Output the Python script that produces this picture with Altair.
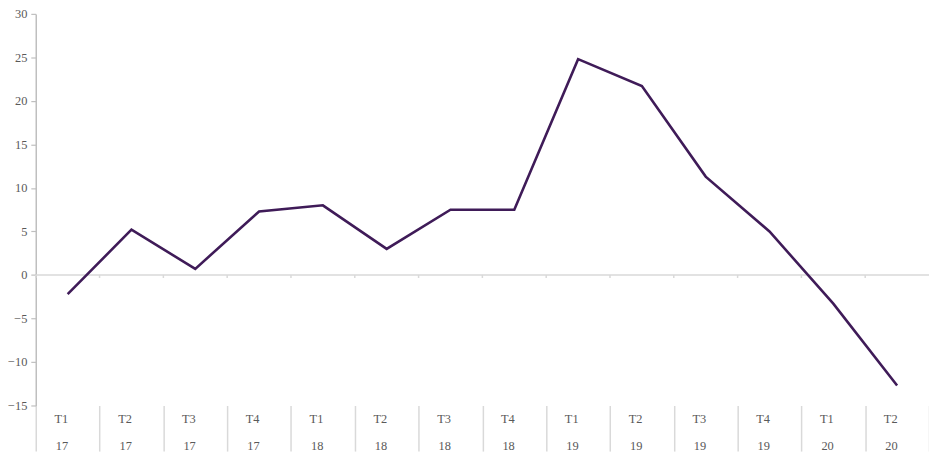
import altair as alt
import pandas as pd

quarters = ["T1", "T2", "T3", "T4", "T1", "T2", "T3", "T4", "T1", "T2", "T3", "T4", "T1", "T2"]
years = ["17", "17", "17", "17", "18", "18", "18", "18", "19", "19", "19", "19", "20", "20"]
values = [-2.2, 5.2, 0.7, 7.3, 8.0, 3.0, 7.5, 7.5, 24.8, 21.7, 11.3, 5.0, -3.3, -12.7]

labels = [f"{q} {y}" for q, y in zip(quarters, years)]
df = pd.DataFrame({"cat": labels, "value": values})

FONT = "Liberation Serif, DejaVu Serif, serif"
TXT = "#595959"

x_scale = alt.Scale(type="band", paddingInner=0, paddingOuter=0)
y_scale = alt.Scale(domain=[-15, 30], nice=False, zero=False)

x_enc = alt.X(
    "cat:N",
    sort=None,
    scale=x_scale,
    axis=alt.Axis(
        title=None,
        domain=False,
        ticks=True,
        tickBand="extent",
        tickSize=46,
        tickColor="#d9d9d9",
        tickWidth=1.5,
        labelPadding=-39,
        labelBaseline="top",
        labelAngle=0,
        labelExpr="split(datum.label, ' ')",
        labelLineHeight=27,
        labelFont=FONT,
        labelFontSize=12.5,
        labelColor=TXT,
        grid=False,
    ),
)

y_enc = alt.Y(
    "value:Q",
    scale=y_scale,
    axis=alt.Axis(
        title=None,
        values=[-15, -10, -5, 0, 5, 10, 15, 20, 25, 30],
        grid=False,
        domainColor="#bfbfbf",
        domainWidth=1.5,
        tickColor="#bfbfbf",
        tickSize=5,
        tickWidth=1.2,
        labelPadding=4,
        labelFont=FONT,
        labelFontSize=12.5,
        labelColor=TXT,
    ),
)

zero_line = alt.Chart(pd.DataFrame({"z": [0]})).mark_rule(
    color="#d9d9d9", strokeWidth=1.5
).encode(y=alt.Y("z:Q", scale=y_scale))

zero_ticks = alt.Chart(df).mark_rule(color="#d9d9d9", strokeWidth=1.5).encode(
    x=alt.X("cat:N", sort=None, bandPosition=0, scale=x_scale),
    y=alt.datum(0),
    y2=alt.datum(-0.35),
)

line = alt.Chart(df).mark_line(color="#3f1b58", strokeWidth=2.6).encode(
    x=x_enc,
    y=y_enc,
)

chart = (
    alt.layer(zero_line, zero_ticks, line)
    .properties(
        width=901,
        height=395,
        autosize=alt.AutoSizeParams(type="none"),
        padding={"left": 28, "top": 4, "right": 0, "bottom": 46},
    )
    .configure(font=FONT)
    .configure_axis(labelFont=FONT)
    .configure_view(stroke=None)
)

chart.save("out.html", embed_options={"renderer": "svg", "actions": False})
